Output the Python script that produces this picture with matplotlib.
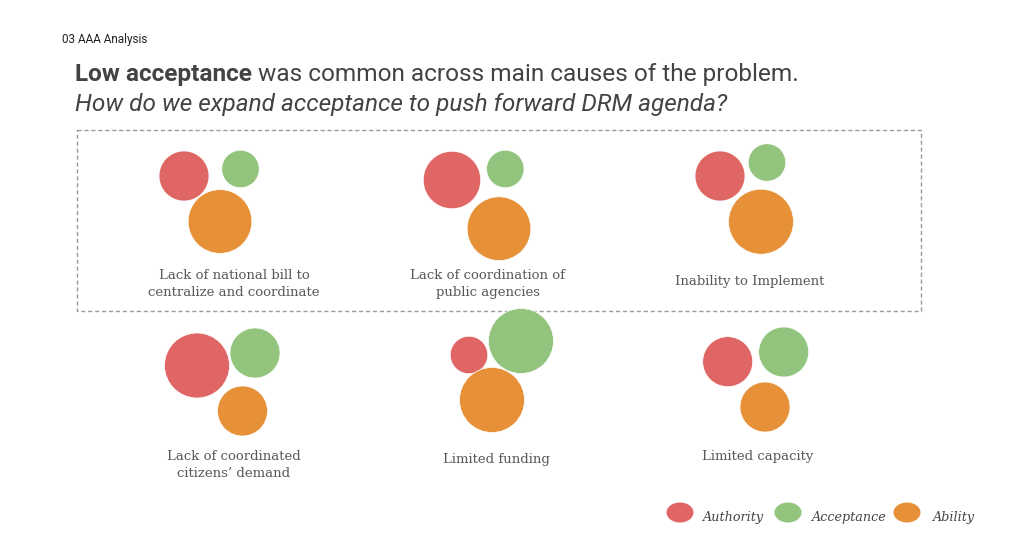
import matplotlib
matplotlib.use("Agg")
import matplotlib.pyplot as plt
from matplotlib.patches import Circle, Ellipse, Rectangle

# data: size score of each of the three A's for every cause
causes = ["Lack of national bill to\ncentralize and coordinate",
          "Lack of coordination of\npublic agencies",
          "Inability to Implement",
          "Lack of coordinated\ncitizens\u2019 demand",
          "Limited funding",
          "Limited capacity"]
authority = [4.0, 4.6, 4.0, 5.2, 3.0, 4.0]
acceptance = [3.0, 3.0, 3.0, 4.0, 5.2, 4.0]
ability = [5.1, 5.1, 5.2, 4.0, 5.2, 4.0]
series_names = ["Authority", "Acceptance", "Ability"]
series_colors = ["#E06666", "#93C47D", "#E69138"]

# layout (pixels): circle centres per cause (authority, acceptance, ability)
centres = [[(184, 176), (240.5, 169), (220, 221.5)],
           [(452, 180), (505.3, 169), (499, 228.7)],
           [(720, 176), (767, 162.5), (761, 221.7)],
           [(197, 365.5), (255, 353), (242.5, 411)],
           [(469, 355), (521, 341), (492, 400)],
           [(727.7, 361.7), (783.7, 352), (765, 407)]]
label_pos = [(234, 284), (488, 284), (750, 281),
             (234, 465), (496, 460), (757.7, 456.7)]
R_UNIT = 6.25

fig = plt.figure(figsize=(10.24, 5.58), dpi=100)
ax = fig.add_axes([0, 0, 1, 1])
ax.set_xlim(0, 1024)
ax.set_ylim(558, 0)
ax.axis("off")

ax.text(62, 39, "03 AAA Analysis", fontsize=8.5, family="Roboto",
        color="#222222", va="center")

# title, bold part then regular part
t1 = ax.text(75, 75, "Low acceptance", fontsize=17.6, family="Roboto",
             weight="bold", color="#434343", va="center")
fig.canvas.draw()
bb = t1.get_window_extent().transformed(ax.transData.inverted())
ax.text(bb.x1 + 6, 75, "was common across main causes of the problem.",
        fontsize=17.6, family="Roboto", color="#434343", va="center")
ax.text(75, 104, "How do we expand acceptance to push forward DRM agenda?",
        fontsize=17.6, family="Roboto", style="italic", color="#434343",
        va="center")

ax.add_patch(Rectangle((77, 129.5), 844, 181, fill=False, ec="#9a9a9a",
                       lw=1, ls=(0, (3, 2))))

for i, cause in enumerate(causes):
    vals = [authority[i], acceptance[i], ability[i]]
    for j in range(3):
        ax.add_patch(Circle(centres[i][j], vals[j] * R_UNIT,
                            fc=series_colors[j], ec="white", lw=0.5))
    ax.text(label_pos[i][0], label_pos[i][1], cause, fontsize=9.5,
            family="DejaVu Serif", color="#595959", ha="center",
            va="center", linespacing=1.4)

# legend
leg_x = [680, 788, 907]
txt_x = [703, 812, 933]
for j in range(3):
    ax.add_patch(Ellipse((leg_x[j], 512.5), 27, 20, fc=series_colors[j],
                         ec="none"))
    ax.text(txt_x[j], 518, series_names[j], fontsize=9.2,
            family="DejaVu Serif", style="italic", color="#444444",
            va="center")

fig.savefig("out.png", dpi=100, facecolor="white")
